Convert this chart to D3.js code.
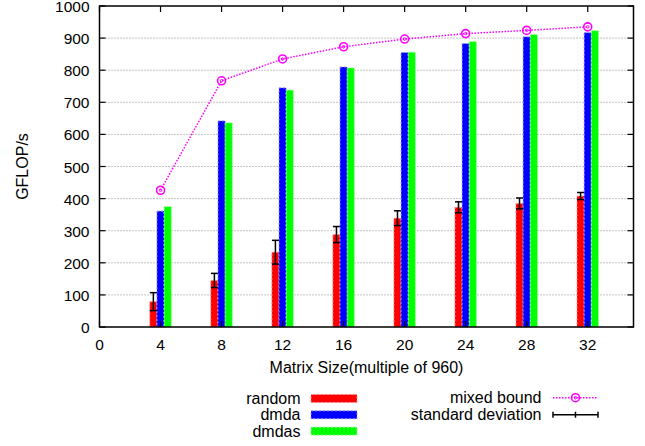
<!DOCTYPE html>
<html>
<head>
<meta charset="utf-8">
<script src="https://cdn.jsdelivr.net/npm/d3@7"></script>
<style>
  body { margin: 0; background: #fff; }
  text { font-family: "Liberation Sans", Arial, sans-serif; font-size: 16px; fill: #000; }
  .tick { font-size: 15.5px; }
</style>
</head>
<body>
<div id="chart"></div>
<script>
// matrix size (multiple of 960)
var sizes = [4, 8, 12, 16, 20, 24, 28, 32];
var random = [79, 145, 233, 288, 339, 373, 385, 408];
var randomStd = [28, 22, 37, 25, 23, 17, 17, 11];
var dmda = [361, 642, 745, 810, 855, 883, 904, 917];
var dmdas = [375, 636, 738, 807, 856, 889, 911, 923];
var mixedBound = [426, 767, 835, 873, 897, 914, 924, 935];
var xTicks = [0, 4, 8, 12, 16, 20, 24, 28, 32];
var yTicks = [0, 100, 200, 300, 400, 500, 600, 700, 800, 900, 1000];

var width = 645, height = 446;
var pLeft = 99.5, pRight = 633.5, pTop = 6, pBottom = 327;

var svg = d3.select("#chart").append("svg")
    .attr("width", width)
    .attr("height", height);

var x = d3.scaleLinear().domain([0, 35]).range([pLeft, pRight]);
var y = d3.scaleLinear().domain([0, 1000]).range([pBottom, pTop]);
var barW = 0.47; // in x units

// grid lines
svg.append("g").selectAll("line")
    .data(yTicks.slice(1, -1))
    .enter().append("line")
    .attr("x1", pLeft).attr("x2", pRight)
    .attr("y1", function(d) { return y(d); })
    .attr("y2", function(d) { return y(d); })
    .attr("stroke", "#888")
    .attr("stroke-width", 1)
    .attr("stroke-dasharray", "1,2");

var series = [
    {name: "random", values: random, color: "#ff0000", edge: "#ff9a9a", off: -1},
    {name: "dmda", values: dmda, color: "#0000ff", edge: "#9a9aff", off: 0},
    {name: "dmdas", values: dmdas, color: "#00ff00", edge: "#9aff9a", off: 1}
];

series.forEach(function(s) {
    svg.append("g").selectAll("rect")
        .data(sizes)
        .enter().append("rect")
        .attr("x", function(d) { return x(d + s.off * barW - barW / 2); })
        .attr("width", x(barW) - x(0))
        .attr("y", function(d, i) { return y(s.values[i]); })
        .attr("height", function(d, i) { return y(0) - y(s.values[i]); })
        .attr("fill", s.color)
        .attr("stroke", s.edge)
        .attr("stroke-width", 1)
        .attr("stroke-dasharray", "2,2");
});

// error bars on random
var eb = svg.append("g").attr("stroke", "#000").attr("stroke-width", 1.5);
sizes.forEach(function(d, i) {
    var cx = x(d - barW);
    var hi = y(random[i] + randomStd[i]), lo = y(random[i] - randomStd[i]);
    eb.append("line").attr("x1", cx).attr("x2", cx).attr("y1", hi).attr("y2", lo);
    eb.append("line").attr("x1", cx - 3.5).attr("x2", cx + 3.5).attr("y1", hi).attr("y2", hi);
    eb.append("line").attr("x1", cx - 3.5).attr("x2", cx + 3.5).attr("y1", lo).attr("y2", lo);
});

// mixed bound line
var line = d3.line()
    .x(function(d) { return x(d); })
    .y(function(d, i) { return y(mixedBound[i]); });

svg.append("path")
    .datum(sizes)
    .attr("d", line)
    .attr("fill", "none")
    .attr("stroke", "#ff00ff")
    .attr("stroke-width", 1.5)
    .attr("stroke-dasharray", "1.5,1.5");

function marker(g, cx, cy) {
    g.append("circle").attr("cx", cx).attr("cy", cy).attr("r", 4)
        .attr("fill", "none").attr("stroke", "#ff00ff").attr("stroke-width", 1.6);
    g.append("circle").attr("cx", cx).attr("cy", cy).attr("r", 1.3)
        .attr("fill", "none").attr("stroke", "#ff00ff").attr("stroke-width", 1);
}
var mk = svg.append("g");
sizes.forEach(function(d, i) { marker(mk, x(d), y(mixedBound[i])); });

// border
svg.append("rect")
    .attr("x", pLeft).attr("y", pTop)
    .attr("width", pRight - pLeft).attr("height", pBottom - pTop)
    .attr("fill", "none").attr("stroke", "#000").attr("stroke-width", 1.5);

// ticks (inward, mirrored)
var tk = svg.append("g").attr("stroke", "#000").attr("stroke-width", 1.2);
yTicks.forEach(function(d) {
    tk.append("line").attr("x1", pLeft).attr("x2", pLeft + 6).attr("y1", y(d)).attr("y2", y(d));
    tk.append("line").attr("x1", pRight).attr("x2", pRight - 6).attr("y1", y(d)).attr("y2", y(d));
});
xTicks.forEach(function(d) {
    tk.append("line").attr("x1", x(d)).attr("x2", x(d)).attr("y1", pBottom).attr("y2", pBottom - 6);
    tk.append("line").attr("x1", x(d)).attr("x2", x(d)).attr("y1", pTop).attr("y2", pTop + 6);
});

// tick labels
svg.append("g").selectAll("text")
    .data(yTicks)
    .enter().append("text")
    .attr("class", "tick")
    .attr("x", pLeft - 10)
    .attr("y", function(d) { return y(d) + 6; })
    .attr("text-anchor", "end")
    .text(function(d) { return d; });

svg.append("g").selectAll("text")
    .data(xTicks)
    .enter().append("text")
    .attr("class", "tick")
    .attr("x", function(d) { return x(d); })
    .attr("y", 349.5)
    .attr("text-anchor", "middle")
    .text(function(d) { return d; });

// axis titles
svg.append("text")
    .attr("x", (pLeft + pRight) / 2)
    .attr("y", 373)
    .attr("text-anchor", "middle")
    .text("Matrix Size(multiple of 960)");

svg.append("text")
    .attr("transform", "translate(28," + ((pTop + pBottom) / 2) + ") rotate(-90)")
    .attr("text-anchor", "middle")
    .text("GFLOP/s");

// legend, left column
series.forEach(function(s, i) {
    var cy = 398.5 + i * 16.3;
    svg.append("text").attr("x", 300.5).attr("y", cy + 5.5)
        .attr("text-anchor", "end").text(s.name);
    svg.append("rect").attr("x", 311).attr("y", cy - 4)
        .attr("width", 46).attr("height", 8)
        .attr("fill", s.color)
        .attr("stroke", s.edge).attr("stroke-width", 1).attr("stroke-dasharray", "2,2");
});

// legend, right column
svg.append("text").attr("x", 541.5).attr("y", 397.7 + 5.5)
    .attr("text-anchor", "end").text("mixed bound");
svg.append("line").attr("x1", 553).attr("x2", 598)
    .attr("y1", 397.7).attr("y2", 397.7)
    .attr("stroke", "#ff00ff").attr("stroke-width", 1.5).attr("stroke-dasharray", "1.5,1.5");
marker(svg.append("g"), 575.5, 397.7);

svg.append("text").attr("x", 541.5).attr("y", 414.7 + 5.5)
    .attr("text-anchor", "end").text("standard deviation");
var sd = svg.append("g").attr("stroke", "#000").attr("stroke-width", 1.5);
sd.append("line").attr("x1", 553).attr("x2", 598).attr("y1", 414.7).attr("y2", 414.7);
[553, 575.5, 598].forEach(function(px) {
    sd.append("line").attr("x1", px).attr("x2", px).attr("y1", 411.7).attr("y2", 417.7);
});
</script>
</body>
</html>
